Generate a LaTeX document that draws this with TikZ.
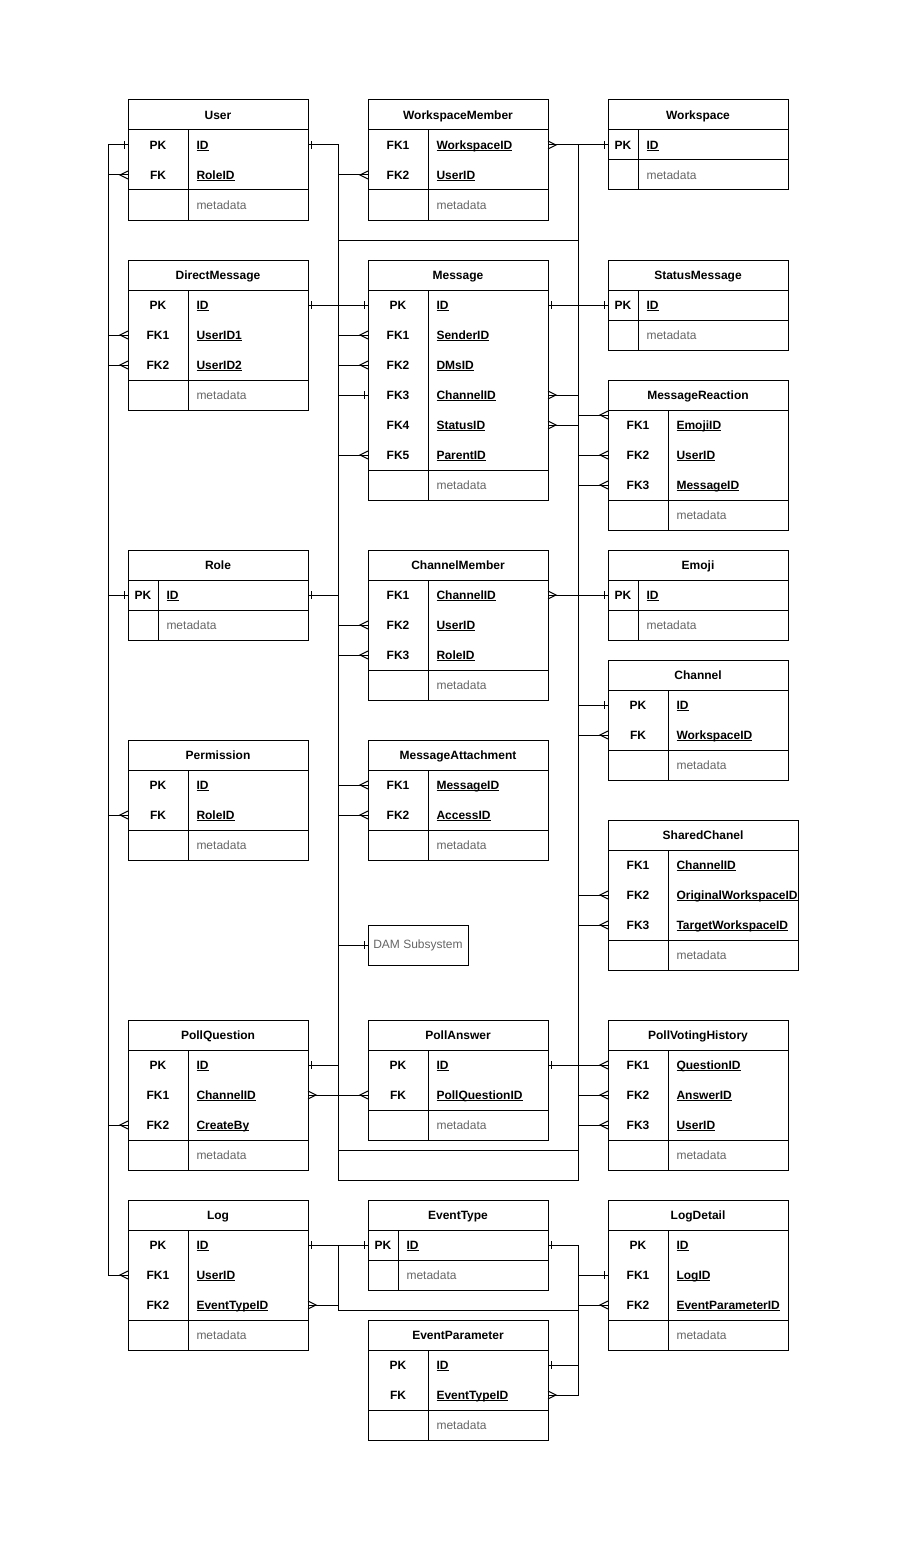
\documentclass[tikz,border=0pt]{standalone}
\usepackage{fontspec}
\setmainfont{Liberation Sans}
\usetikzlibrary{calc}
\definecolor{metagray}{RGB}{102,102,102}
\newsavebox{\fieldbox}
\newcommand{\ulfield}[1]{\sbox{\fieldbox}{#1}\rlap{\rule[-2pt]{\wd\fieldbox}{1pt}}\usebox{\fieldbox}}
\tikzset{
  cellnode/.style={inner sep=0pt, outer sep=0pt, minimum height=30pt},
  hdrtxt/.style={inner sep=0pt, font=\fontsize{12}{14}\selectfont\bfseries, text=black},
  keytxt/.style={inner sep=0pt, font=\fontsize{12}{14}\selectfont\bfseries, text=black},
  fldtxt/.style={inner sep=0pt, font=\fontsize{12}{14}\selectfont\bfseries, text=black},
  metatxt/.style={inner sep=0pt, font=\fontsize{12}{14}\selectfont, text=metagray},
  dambox/.style={draw, fill=white, inner sep=0pt, minimum width=100pt, minimum height=40pt, font=\fontsize{12}{14}\selectfont, text=metagray}
}
% #1 name, #2 x, #3 top, #4 width, #5 key width, #6 title, #7 number of rows, #8 rows key/field
\newcommand{\ertable}[8]{%
  \pgfmathsetmacro{\erB}{#3+30*(#7+2)}%
  \pgfmathsetmacro{\erS}{#3+30*(#7+1)}%
  \filldraw[fill=white] (#2,#3) rectangle (#2+#4,\erB);
  \draw (#2,#3+30) -- (#2+#4,#3+30);
  \draw (#2,\erS) -- (#2+#4,\erS);
  \draw (#2+#5,#3+30) -- (#2+#5,\erB);
  \node[cellnode, minimum width=#4pt, anchor=north west] (#1) at (#2,#3) {};
  \node[hdrtxt, anchor=base] (#1-t) at ($(#1.center)+(0,4.3)$) {#6};
  \foreach \ky/\fd [count=\i] in {#8} {
    \node[cellnode, minimum width=#4pt, anchor=north west] (#1-\i) at (#2,#3+30*\i) {};
    \node[keytxt, anchor=base] (#1-k\i) at ($(#1-\i.west)+(#5/2,4.3)$) {\ky};
    \node[fldtxt, anchor=base west] (#1-f\i) at ($(#1-\i.west)+(#5+8,4.3)$) {\ulfield{\fd}};
  }
  \node[cellnode, minimum width=#4pt, anchor=north west] (#1-m) at (#2,\erS) {};
  \node[metatxt, anchor=base west] (#1-mt) at ($(#1-m.west)+(#5+8,4.3)$) {metadata};
}
\newcommand{\markone}[2]{\draw ($(#1)+(#2*3.5,-4)$) -- ($(#1)+(#2*3.5,4)$);}
\newcommand{\markmany}[2]{\draw ($(#1)+(0,-4)$) -- ($(#1)+(#2*8,0)$) -- ($(#1)+(0,4)$);}
\begin{document}
\begin{tikzpicture}[x=1pt, y=-1pt, line width=1pt]
\useasboundingbox (0,0) rectangle (899,1541);
\fill[white] (0,0) rectangle (899,1541);
\coordinate (busL) at (108,0);
\coordinate (busM) at (338,0);
\coordinate (busR) at (578,0);
\coordinate (mB) at (338,1180);
\coordinate (rB) at (578,1180);
\coordinate (h1a) at (338,240);
\coordinate (h1b) at (578,240);
\coordinate (h2a) at (338,1150);
\coordinate (h2b) at (578,1150);
\coordinate (lowL) at (338,1310);
\coordinate (lowR) at (578,1310);

\ertable{User}{128}{100}{180}{60}{User}{2}{PK/ID, FK/RoleID}
\ertable{WorkspaceMember}{368}{100}{180}{60}{WorkspaceMember}{2}{FK1/WorkspaceID, FK2/UserID}
\ertable{Workspace}{608}{100}{180}{30}{Workspace}{1}{PK/ID}
\ertable{DirectMessage}{128}{260}{180}{60}{DirectMessage}{3}{PK/ID, FK1/UserID1, FK2/UserID2}
\ertable{Message}{368}{260}{180}{60}{Message}{6}{PK/ID, FK1/SenderID, FK2/DMsID, FK3/ChannelID, FK4/StatusID, FK5/ParentID}
\ertable{StatusMessage}{608}{260}{180}{30}{StatusMessage}{1}{PK/ID}
\ertable{MessageReaction}{608}{380}{180}{60}{MessageReaction}{3}{FK1/EmojiID, FK2/UserID, FK3/MessageID}
\ertable{Role}{128}{550}{180}{30}{Role}{1}{PK/ID}
\ertable{ChannelMember}{368}{550}{180}{60}{ChannelMember}{3}{FK1/ChannelID, FK2/UserID, FK3/RoleID}
\ertable{Emoji}{608}{550}{180}{30}{Emoji}{1}{PK/ID}
\ertable{Channel}{608}{660}{180}{60}{Channel}{2}{PK/ID, FK/WorkspaceID}
\ertable{Permission}{128}{740}{180}{60}{Permission}{2}{PK/ID, FK/RoleID}
\ertable{MessageAttachment}{368}{740}{180}{60}{MessageAttachment}{2}{FK1/MessageID, FK2/AccessID}
\ertable{SharedChanel}{608}{820}{190}{60}{SharedChanel}{3}{FK1/ChannelID, FK2/OriginalWorkspaceID, FK3/TargetWorkspaceID}
\ertable{PollQuestion}{128}{1020}{180}{60}{PollQuestion}{3}{PK/ID, FK1/ChannelID, FK2/CreateBy}
\ertable{PollAnswer}{368}{1020}{180}{60}{PollAnswer}{2}{PK/ID, FK/PollQuestionID}
\ertable{PollVotingHistory}{608}{1020}{180}{60}{PollVotingHistory}{3}{FK1/QuestionID, FK2/AnswerID, FK3/UserID}
\ertable{Log}{128}{1200}{180}{60}{Log}{3}{PK/ID, FK1/UserID, FK2/EventTypeID}
\ertable{EventType}{368}{1200}{180}{30}{EventType}{1}{PK/ID}
\ertable{LogDetail}{608}{1200}{180}{60}{LogDetail}{3}{PK/ID, FK1/LogID, FK2/EventParameterID}
\ertable{EventParameter}{368}{1320}{180}{60}{EventParameter}{2}{PK/ID, FK/EventTypeID}
\node[dambox] (DAM) at (418,945) {DAM Subsystem};

% left bus
\draw (User-1.west) -- (User-1.west -| busL) -- (Log-2.west -| busL) -- (Log-2.west);
\markone{User-1.west}{-1}
\markmany{Log-2.west}{-1}
\foreach \a in {User-2, DirectMessage-2, DirectMessage-3, Permission-2, PollQuestion-3} {
  \draw (\a.west) -- (\a.west -| busL);
  \markmany{\a.west}{-1}
}
\draw (Role-1.west) -- (Role-1.west -| busL);
\markone{Role-1.west}{-1}

% middle and right buses
\draw (User-1.east) -- (User-1.east -| busM) -- (mB) -- (rB) -- (WorkspaceMember-1.east -| busR);
\markone{User-1.east}{1}
\draw (h1a) -- (h1b);
\draw (h2a) -- (h2b);
\draw (WorkspaceMember-1.east) -- (Workspace-1.west);
\markmany{WorkspaceMember-1.east}{1}
\markone{Workspace-1.west}{-1}
\draw (DirectMessage-1.east) -- (Message-1.west);
\markone{DirectMessage-1.east}{1}
\markone{Message-1.west}{-1}
\draw (Message-1.east) -- (StatusMessage-1.west);
\markone{Message-1.east}{1}
\markone{StatusMessage-1.west}{-1}
\draw (ChannelMember-1.east) -- (Emoji-1.west);
\markmany{ChannelMember-1.east}{1}
\markone{Emoji-1.west}{-1}
\draw (PollQuestion-2.east) -- (PollAnswer-2.west);
\markmany{PollQuestion-2.east}{1}
\markmany{PollAnswer-2.west}{-1}
\draw (PollAnswer-1.east) -- (PollVotingHistory-1.west);
\markone{PollAnswer-1.east}{1}
\markmany{PollVotingHistory-1.west}{-1}

\foreach \a in {WorkspaceMember-2, Message-2, Message-3, Message-6, ChannelMember-2, ChannelMember-3, MessageAttachment-1, MessageAttachment-2} {
  \draw (\a.west) -- (\a.west -| busM);
  \markmany{\a.west}{-1}
}
\foreach \a in {Message-4, DAM} {
  \draw (\a.west) -- (\a.west -| busM);
  \markone{\a.west}{-1}
}
\foreach \a in {Role-1, PollQuestion-1} {
  \draw (\a.east) -- (\a.east -| busM);
  \markone{\a.east}{1}
}
\foreach \a in {Message-4, Message-5} {
  \draw (\a.east) -- (\a.east -| busR);
  \markmany{\a.east}{1}
}
\coordinate (mrA) at ($(MessageReaction-1.west)+(0,-10)$);
\draw (mrA) -- (mrA -| busR);
\markmany{mrA}{-1}
\foreach \a in {MessageReaction-2, MessageReaction-3, Channel-2, SharedChanel-2, SharedChanel-3, PollVotingHistory-2, PollVotingHistory-3} {
  \draw (\a.west) -- (\a.west -| busR);
  \markmany{\a.west}{-1}
}
\draw (Channel-1.west) -- (Channel-1.west -| busR);
\markone{Channel-1.west}{-1}

% bottom group
\draw (Log-1.east) -- (EventType-1.west);
\markone{Log-1.east}{1}
\markone{EventType-1.west}{-1}
\draw (Log-1.east -| busM) -- (lowL) -- (lowR);
\draw (Log-3.east) -- (Log-3.east -| busM);
\markmany{Log-3.east}{1}
\draw (EventType-1.east) -- (EventType-1.east -| busR) -- (EventParameter-2.east -| busR) -- (EventParameter-2.east);
\markone{EventType-1.east}{1}
\markmany{EventParameter-2.east}{1}
\draw (EventParameter-1.east) -- (EventParameter-1.east -| busR);
\markone{EventParameter-1.east}{1}
\draw (LogDetail-2.west) -- (LogDetail-2.west -| busR);
\markone{LogDetail-2.west}{-1}
\draw (LogDetail-3.west) -- (LogDetail-3.west -| busR);
\markmany{LogDetail-3.west}{-1}
\end{tikzpicture}
\end{document}
